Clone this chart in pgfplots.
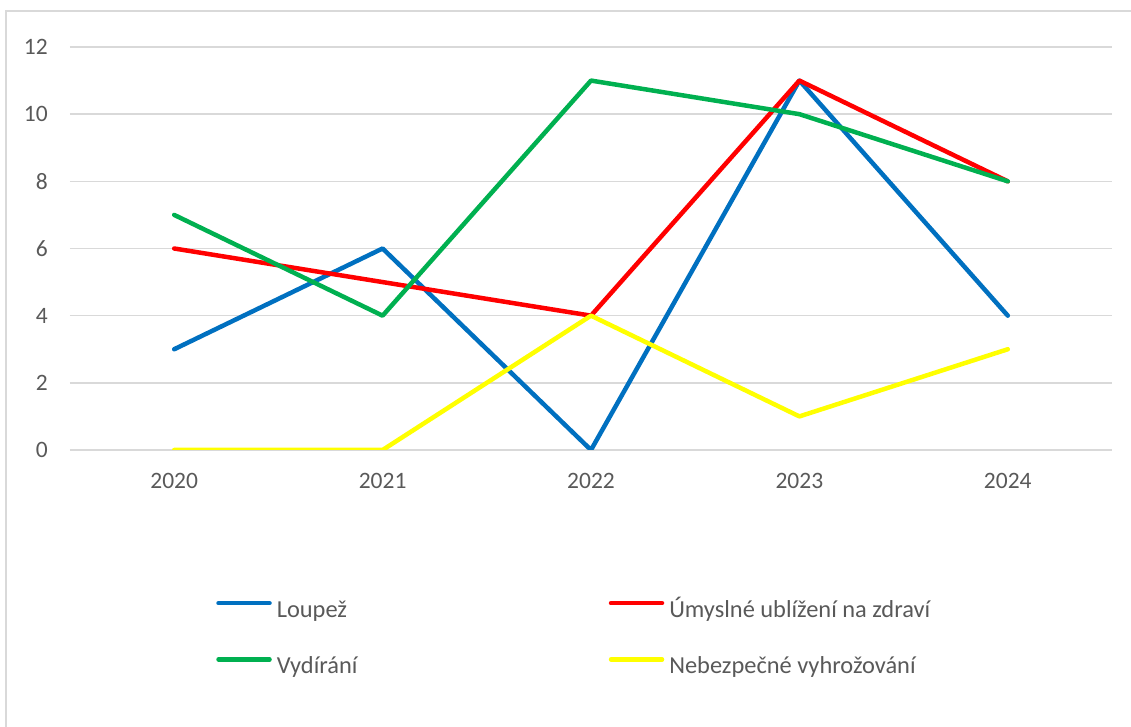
\documentclass[border=0pt]{standalone}
\usepackage{fontspec}
\setmainfont{Carlito}
\usepackage{pgfplots}
\pgfplotsset{compat=1.18}
\definecolor{cblue}{HTML}{0070C0}
\definecolor{cred}{HTML}{FF0000}
\definecolor{cgreen}{HTML}{00B050}
\definecolor{cyellow}{HTML}{FFFF00}
\definecolor{gridgray}{HTML}{D9D9D9}
\definecolor{textgray}{HTML}{595959}
\begin{document}
\fontsize{11.75pt}{14pt}\selectfont
\begin{tikzpicture}
\useasboundingbox (0,0) rectangle (565.5pt,363.5pt);
\draw[color=gridgray, line width=1pt] (3pt,0) -- (3pt,358pt) -- (565.5pt,358pt);
\begin{axis}[
  at={(35pt,138.5pt)}, anchor=south west, scale only axis,
  width=521pt, height=201.5pt,
  xmin=-0.5, xmax=4.5, ymin=0, ymax=12,
  ytick={0,2,...,12}, xtick={0,1,2,3,4},
  xticklabels={2020,2021,2022,2023,2024},
  axis line style={draw=none}, major tick length=0pt,
  ymajorgrids, grid style={color=gridgray, line width=0.75pt},
  tick label style={font=\fontsize{11.75pt}{14pt}\selectfont, text=textgray},
  /pgf/number format/assume math mode=true,
  yticklabel style={xshift=-7pt},
  xticklabel style={yshift=-7.6pt},
  legend columns=2,
  legend cell align=left,
  legend style={at={(axis description cs:0.140,-0.364)}, anchor=north west,
    draw=none, fill=none, inner sep=0pt, row sep=16.4pt,
    font=\fontsize{12.2pt}{14pt}\selectfont, text=textgray,
    nodes={inner sep=0pt},
    /tikz/every odd column/.append style={column sep=2.5pt}},
  legend image code/.code={\draw[line cap=round, line width=2.25pt] (0pt,0.25em) -- (25.5pt,0.25em);},
  every axis plot/.append style={line width=2.25pt, line join=round, line cap=round},
]
\addplot[color=cblue] coordinates {(0,3) (1,6) (2,0) (3,11) (4,4)};
\addlegendentry{\makebox[166pt][l]{\strut Loupež}}
\addplot[color=cred] coordinates {(0,6) (1,5) (2,4) (3,11) (4,8)};
\addlegendentry{\strut Úmyslné ublížení na zdraví}
\addplot[color=cgreen] coordinates {(0,7) (1,4) (2,11) (3,10) (4,8)};
\addlegendentry{\makebox[166pt][l]{\strut Vydírání}}
\addplot[color=cyellow] coordinates {(0,0) (1,0) (2,4) (3,1) (4,3)};
\addlegendentry{\strut Nebezpečné vyhrožování}
\end{axis}
\end{tikzpicture}
\end{document}
